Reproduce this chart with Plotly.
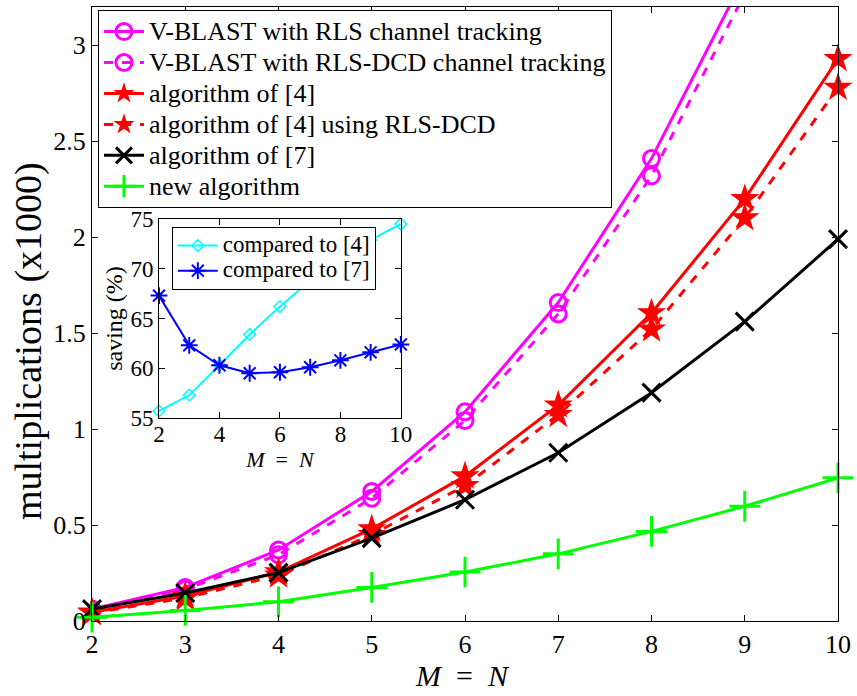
import plotly.graph_objects as go

# Antenna configuration (M = N)
mn = [2, 3, 4, 5, 6, 7, 8, 9, 10]

# Multiplications per time instant (x1000)
vblast_rls = [0.062, 0.175, 0.370, 0.675, 1.090, 1.660, 2.410, 3.360, 4.500]
vblast_rls_dcd = [0.055, 0.165, 0.345, 0.640, 1.045, 1.600, 2.320, 3.270, 4.380]
alg4 = [0.046, 0.130, 0.255, 0.480, 0.755, 1.125, 1.605, 2.200, 2.930]
alg4_dcd = [0.042, 0.120, 0.238, 0.450, 0.705, 1.075, 1.520, 2.100, 2.780]
alg7 = [0.062, 0.146, 0.252, 0.432, 0.632, 0.877, 1.190, 1.560, 1.990]
new_alg = [0.020, 0.055, 0.100, 0.175, 0.255, 0.350, 0.467, 0.598, 0.746]

# Saving (%) of the new algorithm
saving_vs4 = [55.7, 57.3, 60.3, 63.4, 66.2, 68.8, 71.0, 72.9, 74.5]
saving_vs7 = [67.3, 62.3, 60.3, 59.5, 59.6, 60.1, 60.8, 61.6, 62.4]

SERIF = "Liberation Serif, Times New Roman, serif"
MAGENTA = "#ff00ff"
RED = "#ff0000"
BLACK = "#000000"
GREEN = "#00ff00"
CYAN = "#00ffff"
BLUE = "#0000ff"
MN_LABEL = "<i>M</i>&nbsp;&nbsp;=&nbsp;&nbsp;<i>N</i>"


def big(text, px):
    # legend rows are spaced by the legend font; the label itself is drawn larger
    return f'<span style="font-size:{px}px">{text}</span>'


fig = go.Figure()


def main_trace(y, name, color, symbol, size, dash="solid", clip=False, mline=3):
    fig.add_trace(go.Scatter(
        x=mn, y=y, name=big(name, 26), mode="lines+markers",
        line=dict(color=color, width=3, dash=dash),
        marker=dict(symbol=symbol, size=size, color=color,
                    line=dict(color=color, width=mline)),
        cliponaxis=clip, xaxis="x", yaxis="y", legend="legend",
    ))


main_trace(vblast_rls, "V-BLAST with RLS channel tracking", MAGENTA, "circle-open", 16, clip=True)
main_trace(vblast_rls_dcd, "V-BLAST with RLS-DCD channel tracking", MAGENTA, "circle-open", 16, dash="dash", clip=True)
main_trace(alg4, "algorithm of [4]", RED, "star", 22, mline=0)
main_trace(alg4_dcd, "algorithm of [4] using RLS-DCD", RED, "star", 22, dash="dash", mline=0)
main_trace(alg7, "algorithm of [7]", BLACK, "x-thin-open", 18)
main_trace(new_alg, "new algorithm", GREEN, "cross-thin-open", 22)

fig.add_trace(go.Scatter(
    x=mn, y=saving_vs4, name=big("compared to [4]", 23), mode="lines+markers",
    line=dict(color=CYAN, width=2),
    marker=dict(symbol="diamond-open", size=9, color=CYAN, line=dict(color=CYAN, width=1.5)),
    cliponaxis=False, xaxis="x2", yaxis="y2", legend="legend2",
))
fig.add_trace(go.Scatter(
    x=mn, y=saving_vs7, name=big("compared to [7]", 23), mode="lines+markers",
    line=dict(color=BLUE, width=2),
    marker=dict(symbol="asterisk-open", size=14, color=BLUE, line=dict(color=BLUE, width=2)),
    cliponaxis=False, xaxis="x2", yaxis="y2", legend="legend2",
))

axis_common = dict(showline=True, linecolor="black", linewidth=1, mirror="ticks",
                   ticks="inside", ticklen=6, tickcolor="black", showgrid=False,
                   zeroline=False, automargin=False)

fig.update_layout(
    width=857, height=696,
    margin=dict(l=92, r=19, t=7, b=75, autoexpand=False),
    paper_bgcolor="white", plot_bgcolor="white",
    font=dict(family=SERIF, color="black"),
    xaxis=dict(range=[2, 10], dtick=1, domain=[0, 1],
               tickfont=dict(size=26), **axis_common),
    yaxis=dict(range=[0, 3.2], tickvals=[0, 0.5, 1, 1.5, 2, 2.5, 3],
               ticktext=["0", "0.5", "1", "1.5", "2", "2.5", "3"],
               tickfont=dict(size=26), domain=[0, 1], **axis_common),
    xaxis2=dict(range=[2, 10], tickvals=[2, 4, 6, 8, 10], anchor="y2",
                domain=[0.0898, 0.414], tickfont=dict(size=23),
                ticklabelstandoff=-5,
                title=dict(text=MN_LABEL, font=dict(size=22), standoff=0),
                **axis_common),
    yaxis2=dict(range=[55, 75], tickvals=[55, 60, 65, 70, 75], anchor="x2",
                domain=[0.3306, 0.6547], tickfont=dict(size=23),
                title=dict(text="saving (%)", font=dict(size=24), standoff=0),
                **axis_common),
    legend=dict(x=0.008, y=0.9950, xanchor="left", yanchor="top",
                bgcolor="white", bordercolor="black", borderwidth=1,
                font=dict(size=21.5, family=SERIF), itemwidth=40,
                tracegroupgap=0),
    legend2=dict(x=0.107, y=0.6417, xanchor="left", yanchor="top",
                 bgcolor="white", bordercolor="black", borderwidth=1,
                 font=dict(size=17, family=SERIF), itemwidth=40,
                 tracegroupgap=0),
    annotations=[
        dict(text=MN_LABEL, xref="paper", yref="paper",
             x=0.497, y=-0.0895, xanchor="center", yanchor="middle",
             showarrow=False, font=dict(size=30)),
        dict(text="multiplications (x1000)", xref="paper", yref="paper",
             x=-0.0857, y=0.456, xanchor="center", yanchor="middle", textangle=-90,
             showarrow=False, font=dict(size=38)),
    ],
)

fig.write_html("out.html")
